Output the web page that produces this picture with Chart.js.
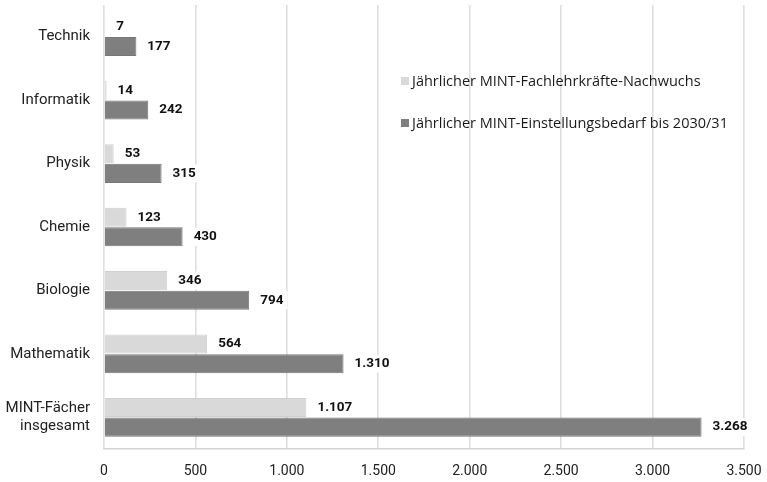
<!DOCTYPE html>
<html lang="de">
<head>
  <meta charset="UTF-8" />
  <title>MINT-Lehrkräfte</title>
  <script src="https://cdn.jsdelivr.net/npm/chart.js"></script>
  <style>
    body { margin: 0; background: #fff; }
    #wrap { width: 767px; height: 482px; position: relative; }
  </style>
</head>
<body>
  <div id="wrap">
    <canvas id="myChart" width="767" height="482"></canvas>
  </div>

<script>
  // Fächer (von oben nach unten)
  const faecher = ['Technik', 'Informatik', 'Physik', 'Chemie', 'Biologie', 'Mathematik', ['MINT-Fächer', 'insgesamt']];

  // Jährlicher Nachwuchs an MINT-Fachlehrkräften
  const nachwuchs = [7, 14, 53, 123, 346, 564, 1107];

  // Jährlicher Einstellungsbedarf bis 2030/31
  const bedarf = [177, 242, 315, 430, 794, 1310, 3268];

  const serienNamen = [
    'Jährlicher MINT-Fachlehrkräfte-Nachwuchs',
    'Jährlicher MINT-Einstellungsbedarf bis 2030/31'
  ];

  const xTicks = [0, 500, 1000, 1500, 2000, 2500, 3000, 3500];

  // Tausenderpunkt wie im Deutschen
  function fmt(v) {
    return String(v).replace(/\B(?=(\d{3})+(?!\d))/g, '.');
  }

  // Werte rechts neben den Balken, mit weißem Hintergrund
  const wertLabels = {
    id: 'wertLabels',
    afterDatasetsDraw(chart) {
      const ctx = chart.ctx;
      ctx.save();
      ctx.font = 'bold 13.5px Roboto, sans-serif';
      ctx.textBaseline = 'middle';
      chart.data.datasets.forEach((ds, i) => {
        const meta = chart.getDatasetMeta(i);
        meta.data.forEach((bar, j) => {
          const txt = fmt(ds.data[j]);
          const x = bar.x + 11;
          const y = bar.y;
          const w = ctx.measureText(txt).width;
          ctx.fillStyle = '#fff';
          ctx.fillRect(x - 4, y - 9, w + 8, 18);
          ctx.fillStyle = '#111';
          ctx.fillText(txt, x, y);
        });
      });
      ctx.restore();
    }
  };

  // Legende innerhalb der Grafik
  const legende = {
    id: 'legende',
    afterDraw(chart) {
      const ctx = chart.ctx;
      ctx.save();
      ctx.font = '14.5px "Open Sans", sans-serif';
      ctx.textBaseline = 'middle';
      const ys = [81, 123];
      chart.data.datasets.forEach((ds, i) => {
        ctx.fillStyle = ds.backgroundColor;
        ctx.fillRect(401, ys[i] - 4, 8, 8);
        ctx.fillStyle = '#1a1a1a';
        ctx.fillText(ds.label, 412, ys[i] + 1);
      });
      ctx.restore();
    }
  };

  const ctx = document.getElementById('myChart').getContext('2d');
  new Chart(ctx, {
    type: 'bar',
    data: {
      labels: faecher,
      datasets: [
        {
          label: serienNamen[0],
          data: nachwuchs,
          backgroundColor: '#d9d9d9',
          borderColor: '#cfcfcf',
          borderWidth: 1,
          categoryPercentage: 0.62,
          barPercentage: 0.97
        },
        {
          label: serienNamen[1],
          data: bedarf,
          backgroundColor: '#7f7f7f',
          borderColor: '#777',
          borderWidth: 1,
          categoryPercentage: 0.62,
          barPercentage: 0.97
        }
      ]
    },
    options: {
      indexAxis: 'y',
      responsive: false,
      animation: false,
      layout: { padding: { top: 5, right: 23, bottom: 0, left: 0 } },
      plugins: {
        legend: { display: false },
        tooltip: { enabled: false }
      },
      scales: {
        x: {
          min: 0,
          max: 3500,
          afterBuildTicks: axis => { axis.ticks = xTicks.map(v => ({ value: v })); },
          afterFit: axis => { axis.height = 33; axis.paddingRight = 0; axis.paddingLeft = 0; },
          grid: { color: '#dedede', lineWidth: 1.6, drawTicks: false },
          border: { display: true, color: '#d4d4d4', width: 1.4 },
          ticks: {
            padding: 14,
            color: '#222',
            font: { family: 'Roboto, sans-serif', size: 14 },
            callback: v => fmt(v)
          }
        },
        y: {
          afterFit: axis => { axis.width = 104; axis.paddingTop = 0; axis.paddingBottom = 0; },
          grid: { display: false, drawTicks: false },
          border: { display: false },
          ticks: {
            padding: 14,
            color: '#222',
            font: { family: 'Roboto, sans-serif', size: 15 }
          }
        }
      }
    },
    plugins: [wertLabels, legende]
  });
</script>
</body>
</html>
